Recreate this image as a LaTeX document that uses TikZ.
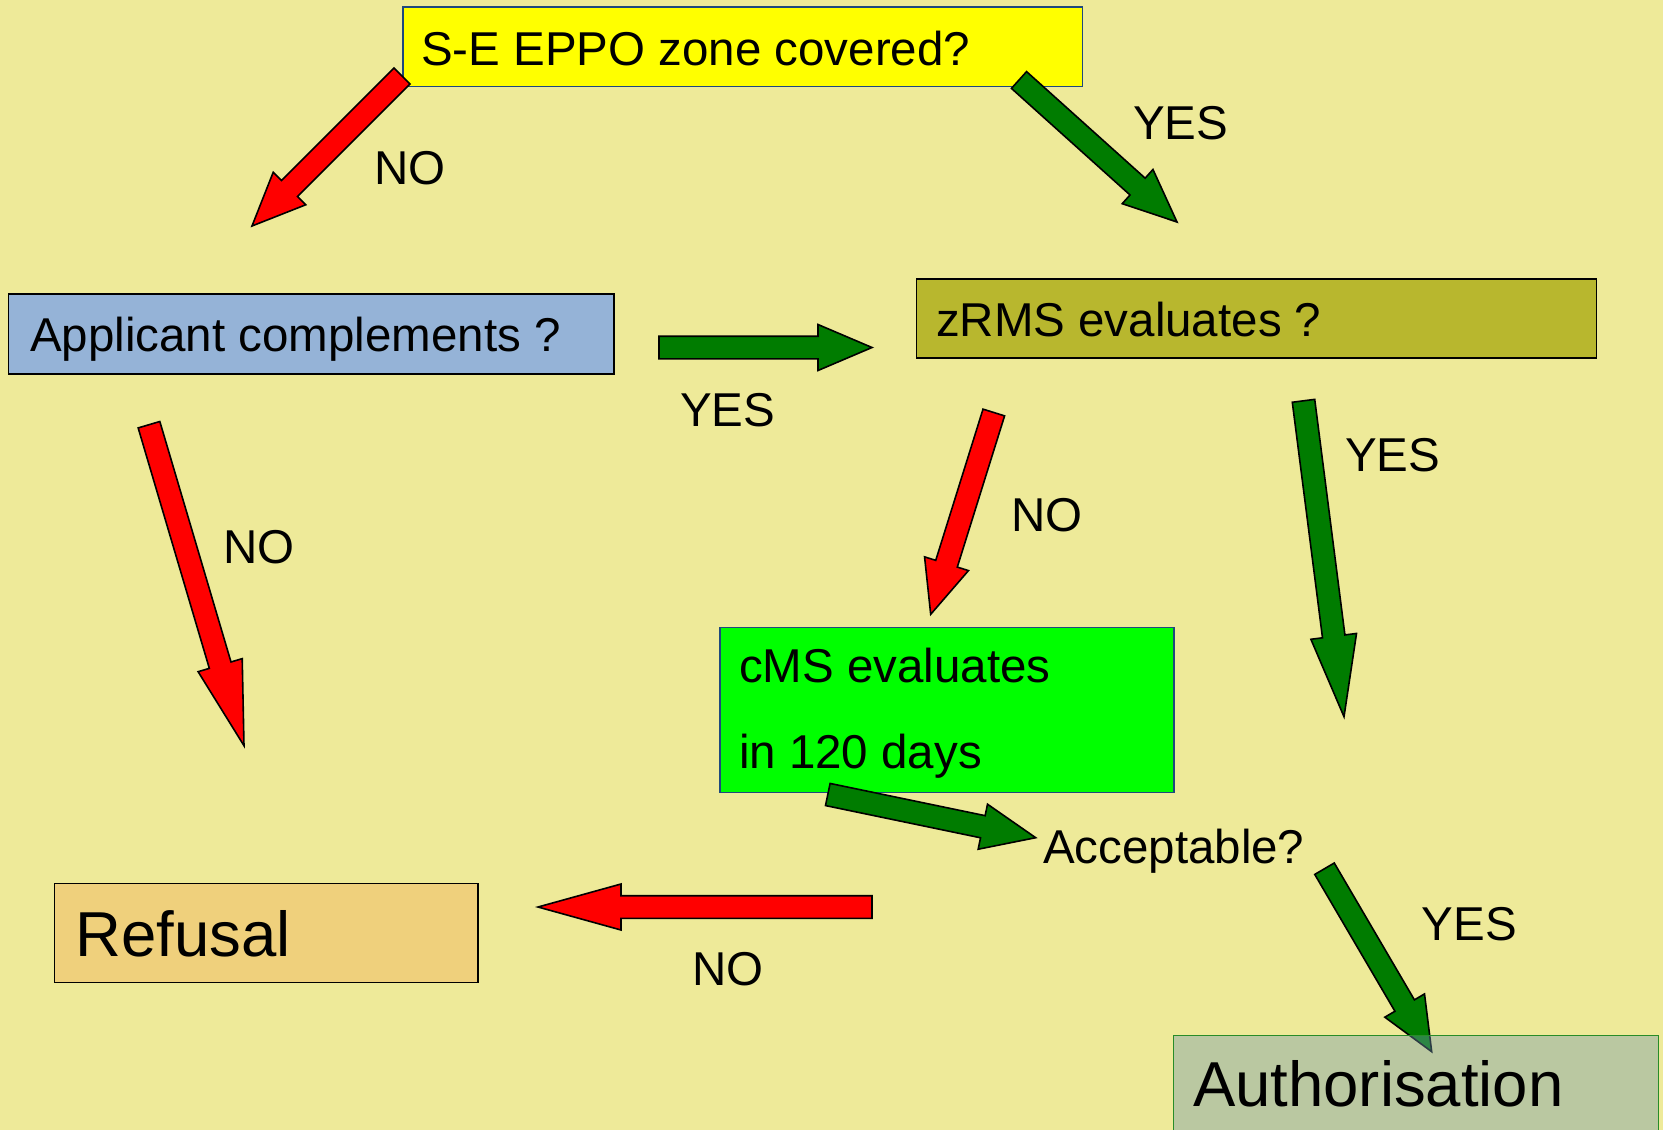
\documentclass[tikz,border=0pt]{standalone}
\usepackage{fontspec}
\setmainfont{Liberation Sans}
\usetikzlibrary{calc}
\definecolor{bg}{RGB}{238,234,153}
\definecolor{boxyellow}{RGB}{255,255,0}
\definecolor{boxblue}{RGB}{149,179,215}
\definecolor{boxolive}{RGB}{184,183,46}
\definecolor{boxgreen}{RGB}{0,255,0}
\definecolor{boxtan}{RGB}{239,208,124}
\definecolor{authfill}{RGB}{110,151,173}
\definecolor{authline}{RGB}{40,140,40}
\definecolor{darkblue}{RGB}{31,73,125}
\definecolor{arrred}{RGB}{255,0,0}
\definecolor{arrgreen}{RGB}{0,124,0}
\tikzset{
  box/.style={draw=black, line width=1.4pt, inner sep=0pt, outer sep=0pt, anchor=north west},
  lbl/.style={font=\fontsize{47.5}{57}\selectfont, inner sep=0pt, outer sep=0pt, anchor=base west},
  biglbl/.style={font=\fontsize{63.5}{76}\selectfont, inner sep=0pt, outer sep=0pt, anchor=base west},
  arrowline/.style={draw=black, line width=1.6pt, line join=miter},
}
\newcommand{\blockarrow}[4]{% colour, from, to, head length
  \coordinate (hb) at ($(#3)!#4!(#2)$);
  \draw[arrowline, fill=#1]
    ($(#2)!11.3pt!90:(#3)$) -- ($(hb)!11.3pt!90:(#3)$) -- ($(hb)!23pt!90:(#3)$) -- (#3)
    -- ($(hb)!23pt!-90:(#3)$) -- ($(hb)!11.3pt!-90:(#3)$) -- ($(#2)!11.3pt!-90:(#3)$) -- cycle;
}
\begin{document}
\begin{tikzpicture}[x=1pt, y=-1pt]
\useasboundingbox (0,0) rectangle (1663,1130);
\clip (0,0) rectangle (1663,1130);
\fill[bg] (0,0) rectangle (1663,1130);

% boxes
\node[box, draw=darkblue, fill=boxyellow, minimum width=679.5pt, minimum height=79.5pt] (top) at (403,7) {};
\node[box, fill=boxblue, minimum width=605.4pt, minimum height=80pt] (app) at (8.6,294) {};
\node[box, fill=boxolive, minimum width=679.8pt, minimum height=79pt] (zrms) at (916.4,279) {};
\node[box, draw=darkblue, fill=boxgreen, minimum width=453.8pt, minimum height=165.4pt] (cms) at (720,627.3) {};
\node[box, fill=boxtan, minimum width=423.5pt, minimum height=99.4pt] (ref) at (54.5,883.3) {};

% box texts
\node[lbl] (toptext) at (421,65) {S-E EPPO zone covered?};
\node[lbl] (apptext) at (30,351) {Applicant complements ?};
\node[lbl] (zrmstext) at (936,336) {zRMS evaluates ?};
\node[lbl] (cmstexta) at (739,682.7) {cMS evaluates};
\node[lbl] (cmstextb) at (739,768.3) {in 120 days};
\node[lbl] (acc) at (1043,863.3) {Acceptable?};
\node[biglbl] (reftext) at (75.5,956.7) {Refusal};

% labels
\node[lbl] (no1) at (374.7,184.3) {NO};
\node[lbl] (yes1) at (1133,139) {YES};
\node[lbl] (yes2) at (680,426) {YES};
\node[lbl] (no2) at (223.7,563.3) {NO};
\node[lbl] (no3) at (1011.4,531) {NO};
\node[lbl] (yes3) at (1345,471.7) {YES};
\node[lbl] (yes4) at (1421.7,940) {YES};
\node[lbl] (no4) at (692.4,985) {NO};

% arrow end points
\coordinate (a1s) at (402,76);      \coordinate (a1e) at (252,226);
\coordinate (a2s) at (1019,80);     \coordinate (a2e) at (1177,222);
\coordinate (a3s) at (659,347.5);   \coordinate (a3e) at (872,347.5);
\coordinate (a4s) at (149,424.7);   \coordinate (a4e) at (244,745.7);
\coordinate (a5s) at (993.8,412.5); \coordinate (a5e) at (930.7,614.3);
\coordinate (a6s) at (1303.5,400.8);\coordinate (a6e) at (1344,716.7);
\coordinate (a7s) at (827.8,794.5); \coordinate (a7e) at (1035.7,837.7);
\coordinate (a8s) at (872,907);     \coordinate (a8e) at (538,907);
\coordinate (a9s) at (1324.5,868.7);\coordinate (a9e) at (1431.7,1051.7);

\blockarrow{arrred}{a1s}{a1e}{53pt}
\blockarrow{arrgreen}{a2s}{a2e}{53pt}
\blockarrow{arrgreen}{a3s}{a3e}{54pt}
\blockarrow{arrred}{a4s}{a4e}{84pt}
\blockarrow{arrred}{a5s}{a5e}{53pt}
\blockarrow{arrgreen}{a6s}{a6e}{81pt}
\blockarrow{arrgreen}{a7s}{a7e}{54pt}
\blockarrow{arrred}{a8s}{a8e}{83pt}
\blockarrow{arrgreen}{a9s}{a9e}{53.5pt}

% authorisation box (translucent, over the arrow tip)
\node[box, draw=authline, fill=authfill, fill opacity=0.4, draw opacity=1, minimum width=485pt, minimum height=130pt] (auth) at (1173.3,1035.7) {};
\node[biglbl] (authtext) at (1193,1106.7) {Authorisation};
\end{tikzpicture}
\end{document}
